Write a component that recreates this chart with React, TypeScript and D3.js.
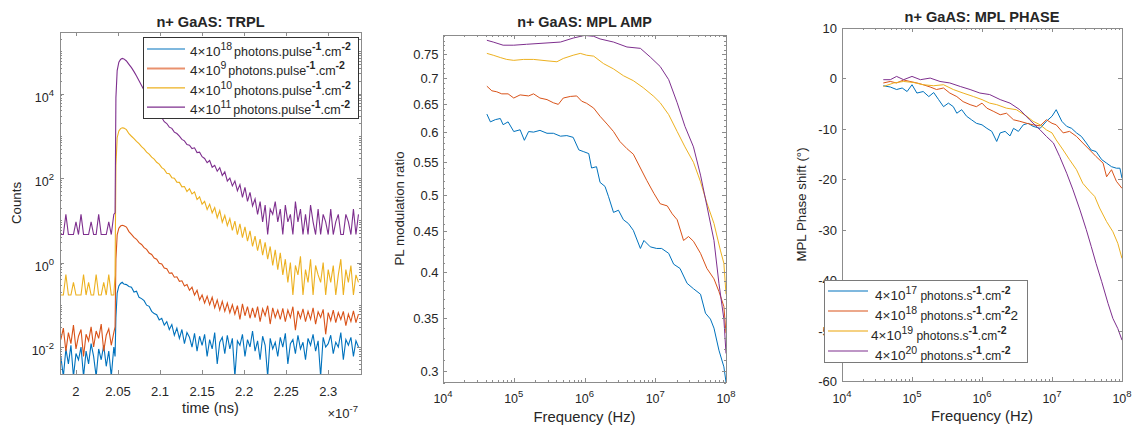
import React from "react";
import * as d3 from "d3";

const FONT = "'Liberation Sans', Arial, Helvetica, sans-serif";
const TEXT = "#262626";
const AXIS = "#8c8c8c";
const COLORS = ["#0072BD", "#D95319", "#EDB120", "#7E2F8E"];

// ---------------- TRPL (left) ----------------
// time in units of 1e-7 s : 22 baseline samples, 8 rise samples, 92 decay samples
const trplPreTimes = d3.range(22).map((i) => 1.982 + 0.003 * i);
const trplRiseTimes = [2.0465, 2.0475, 2.049, 2.051, 2.053, 2.055, 2.057, 2.06];
const trplPostTimes = d3.range(92).map((i) => 2.063 + 0.003 * i);
const trplTimes = [...trplPreTimes, ...trplRiseTimes, ...trplPostTimes];

const trplBlue = [
  0.006, 0.002, 0.009, 0.004, 0.011, 0.002, 0.007, 0.005, 0.010, 0.002, 0.008, 0.004, 0.012, 0.006, 0.002, 0.009, 0.005, 0.011, 0.0035, 0.008, 0.002, 0.010,
  0.006, 0.05, 0.19, 0.28, 0.32, 0.34, 0.31, 0.30,
  0.27, 0.26, 0.2, 0.21, 0.15, 0.14, 0.125, 0.098, 0.092, 0.07,
  0.062, 0.058, 0.044, 0.048, 0.033, 0.04, 0.026, 0.034, 0.019, 0.028,
  0.016, 0.026, 0.012, 0.022, 0.017, 0.01, 0.021, 0.008, 0.018, 0.011,
  0.02, 0.006, 0.015, 0.009, 0.022, 0.004, 0.013, 0.017, 0.007, 0.019,
  0.009, 0.016, 0.002, 0.014, 0.011, 0.02, 0.006, 0.015, 0.01, 0.024,
  0.008, 0.014, 0.005, 0.018, 0.011, 0.002, 0.016, 0.009, 0.013, 0.006,
  0.017, 0.01, 0.021, 0.004, 0.012, 0.015, 0.007, 0.019, 0.009, 0.013,
  0.005, 0.016, 0.011, 0.02, 0.008, 0.014, 0.002, 0.017, 0.01, 0.012,
  0.019, 0.007, 0.013, 0.01, 0.022, 0.005, 0.015, 0.011, 0.017, 0.006,
  0.014, 0.01,
];
const trplOrange = [
  0.015, 0.028, 0.008, 0.022, 0.012, 0.033, 0.009, 0.018, 0.026, 0.006, 0.02, 0.014, 0.03, 0.01, 0.024, 0.016, 0.035, 0.008, 0.019, 0.027, 0.011, 0.022,
  0.03, 1.2, 4.5, 6.5, 7.3, 7.6, 7.4, 6.9,
  5.4, 4.65, 3.95, 3.55, 2.95, 2.68, 2.25, 2.05, 1.68, 1.55,
  1.28, 1.2, 0.96, 0.93, 0.74, 0.71, 0.56, 0.57, 0.45, 0.46,
  0.36, 0.37, 0.28, 0.3, 0.22, 0.26, 0.17, 0.22, 0.13, 0.17,
  0.11, 0.16, 0.1, 0.15, 0.085, 0.13, 0.075, 0.12, 0.07, 0.11,
  0.065, 0.1, 0.06, 0.095, 0.045, 0.105, 0.055, 0.09, 0.048, 0.085,
  0.05, 0.09, 0.04, 0.08, 0.055, 0.095, 0.035, 0.085, 0.05, 0.075,
  0.045, 0.082, 0.04, 0.075, 0.05, 0.09, 0.025, 0.072, 0.048, 0.08,
  0.04, 0.07, 0.045, 0.085, 0.035, 0.068, 0.05, 0.078, 0.02, 0.065,
  0.042, 0.075, 0.038, 0.065, 0.045, 0.07, 0.032, 0.06, 0.04, 0.072,
  0.038, 0.06,
];
const trplYellow = [
  0.17, 0.17, 0.52, 0.17, 0.17, 0.34, 0.17, 0.17, 0.17, 0.52, 0.17, 0.34, 0.17, 0.17, 0.52, 0.17, 0.17, 0.34, 0.17, 0.52, 0.17, 0.17,
  0.5, 200, 900, 1300, 1480, 1550, 1520, 1400,
  1120, 975, 855, 735, 650, 552, 488, 412, 368, 312,
  280, 236, 214, 176, 160, 130, 126, 102, 99, 80,
  79, 62, 63, 48, 56, 42, 47, 31, 36, 24,
  28, 18, 24, 15, 20, 11.5, 17, 9, 13, 7.5,
  11, 5.8, 9.5, 4.6, 8.2, 3.9, 7, 3.2, 5.6, 2.4,
  4.2, 1.9, 3.6, 1.5, 3, 1.2, 2.4, 0.85, 2, 0.68,
  1.7, 0.51, 1.2, 0.34, 1.0, 0.17, 0.85, 0.51, 1.4, 0.17,
  0.68, 0.34, 1.2, 0.17, 0.85, 0.51, 0.34, 1.0, 0.17, 0.68,
  0.34, 0.85, 0.17, 0.51, 1.2, 0.17, 0.68, 0.34, 0.85, 0.17,
  0.51, 0.34,
];
const trplPurple = [
  4.6, 4.6, 13.8, 4.6, 4.6, 4.6, 9.2, 4.6, 13.8, 4.6, 4.6, 4.6, 9.2, 4.6, 4.6, 13.8, 4.6, 4.6, 4.6, 9.2, 4.6, 13.8,
  15, 8000, 35000, 55000, 64000, 68000, 66000, 59000,
  49000, 41000, 33000, 26000, 20000, 15500, 12000, 9500, 7500, 6000,
  4800, 3950, 3150, 2700, 2150, 1950, 1600, 1500, 1220, 1130,
  980, 820, 760, 620, 600, 500, 520, 400, 410, 320,
  290, 230, 260, 180, 200, 145, 175, 115, 140, 85,
  100, 65, 85, 50, 70, 35, 60, 28, 46, 22,
  32, 13.8, 27.6, 9.2, 23, 4.6, 18.4, 13.8, 27.6, 9.2,
  18.4, 4.6, 23, 9.2, 13.8, 4.6, 27.6, 9.2, 18.4, 4.6,
  13.8, 4.6, 23, 9.2, 4.6, 18.4, 4.6, 13.8, 9.2, 4.6,
  18.4, 4.6, 9.2, 13.8, 4.6, 4.6, 13.8, 9.2, 4.6, 18.4,
  4.6, 13.8,
];
const trplSeries = [trplBlue, trplOrange, trplYellow, trplPurple];
const trplLegendExp = ["18", "9", "10", "11"];
const trplXTicks = [2, 2.05, 2.1, 2.15, 2.2, 2.25, 2.3];
const trplYTickExp = [-2, 0, 2, 4];

// ---------------- MPL AMP (middle) : [log10(Hz), ratio] ----------------
const ampBlue = [
  [4.62, 0.631], [4.67, 0.617], [4.74, 0.621], [4.81, 0.623], [4.85, 0.612], [4.92, 0.617], [5.0, 0.6], [5.09, 0.603],
  [5.15, 0.585], [5.21, 0.6], [5.28, 0.599], [5.37, 0.602], [5.47, 0.597], [5.56, 0.597], [5.66, 0.592], [5.75, 0.593],
  [5.84, 0.59], [5.92, 0.569], [5.99, 0.566], [6.06, 0.563], [6.1, 0.54], [6.17, 0.542], [6.22, 0.518], [6.29, 0.512],
  [6.34, 0.497], [6.41, 0.475], [6.48, 0.478], [6.55, 0.465], [6.62, 0.46], [6.69, 0.451], [6.79, 0.428], [6.84, 0.438],
  [6.93, 0.43], [7.02, 0.428], [7.09, 0.428], [7.19, 0.422], [7.26, 0.409], [7.35, 0.404], [7.45, 0.387], [7.54, 0.381],
  [7.64, 0.375], [7.71, 0.355], [7.78, 0.349], [7.83, 0.34], [7.9, 0.319], [7.97, 0.304], [8.0, 0.291],
];
const ampOrange = [
  [4.62, 0.684], [4.69, 0.675], [4.76, 0.673], [4.83, 0.669], [4.92, 0.669], [5.0, 0.661], [5.09, 0.667], [5.21, 0.665],
  [5.28, 0.669], [5.37, 0.661], [5.47, 0.658], [5.56, 0.652], [5.63, 0.649], [5.7, 0.661], [5.8, 0.664], [5.89, 0.665],
  [5.96, 0.655], [6.03, 0.651], [6.13, 0.642], [6.22, 0.627], [6.32, 0.613], [6.41, 0.6], [6.5, 0.583], [6.6, 0.571],
  [6.69, 0.562], [6.79, 0.54], [6.88, 0.521], [6.98, 0.502], [7.07, 0.487], [7.17, 0.484], [7.24, 0.473], [7.31, 0.465],
  [7.4, 0.438], [7.47, 0.443], [7.54, 0.437], [7.64, 0.422], [7.73, 0.404], [7.83, 0.392], [7.9, 0.378], [7.97, 0.362],
  [8.0, 0.335],
];
const ampYellow = [
  [4.62, 0.752], [4.71, 0.748], [4.81, 0.743], [4.9, 0.739], [5.0, 0.737], [5.14, 0.739], [5.28, 0.739], [5.47, 0.736],
  [5.61, 0.734], [5.7, 0.741], [5.84, 0.748], [5.94, 0.752], [6.03, 0.748], [6.13, 0.746], [6.27, 0.73], [6.41, 0.719],
  [6.55, 0.705], [6.69, 0.695], [6.83, 0.681], [6.98, 0.664], [7.07, 0.652], [7.19, 0.63], [7.31, 0.6], [7.42, 0.574],
  [7.54, 0.549], [7.64, 0.519], [7.73, 0.488], [7.83, 0.46], [7.92, 0.426], [7.97, 0.41], [8.0, 0.375],
];
const ampPurple = [
  [4.62, 0.781], [4.71, 0.777], [4.85, 0.77], [5.0, 0.77], [5.18, 0.772], [5.47, 0.775], [5.66, 0.777], [5.84, 0.786],
  [6.0, 0.792], [6.13, 0.79], [6.22, 0.784], [6.41, 0.777], [6.6, 0.766], [6.79, 0.763], [6.93, 0.744], [7.07, 0.724],
  [7.19, 0.697], [7.31, 0.652], [7.42, 0.609], [7.54, 0.574], [7.64, 0.529], [7.73, 0.484], [7.83, 0.438], [7.9, 0.387],
  [7.97, 0.349], [8.0, 0.316],
];
const ampSeries = [ampBlue, ampOrange, ampYellow, ampPurple];
const ampYTicks = [0.3, 0.35, 0.4, 0.45, 0.5, 0.55, 0.6, 0.65, 0.7, 0.75];

// ---------------- MPL PHASE (right) : [log10(Hz), degrees] ----------------
const phaseBlue = [
  [4.59, -1.45], [4.69, -1.7], [4.78, -2.2], [4.86, -1.9], [4.93, -2.6], [5.0, -1.25], [5.07, -2.9], [5.16, -2.6],
  [5.24, -3.6], [5.31, -2.8], [5.38, -4.2], [5.45, -5.6], [5.52, -4.9], [5.59, -5.6], [5.64, -6.9], [5.71, -6.2],
  [5.78, -7.5], [5.85, -8.2], [5.92, -8.9], [6.0, -9.2], [6.07, -9.9], [6.14, -10.5], [6.21, -12.5], [6.26, -10.8],
  [6.33, -10.5], [6.4, -11.4], [6.45, -9.9], [6.52, -10.5], [6.59, -9.2], [6.66, -8.9], [6.73, -9.5], [6.83, -9.9],
  [6.92, -8.5], [7.0, -7.5], [7.06, -6.2], [7.14, -8.5], [7.21, -9.5], [7.28, -9.9], [7.35, -10.8], [7.42, -11.5],
  [7.49, -12.8], [7.56, -14.2], [7.63, -14.5], [7.71, -16.1], [7.78, -16.8], [7.85, -17.5], [7.92, -17.8], [7.97, -17.8],
  [8.0, -19.8],
];
const phaseOrange = [
  [4.59, -0.9], [4.69, -0.6], [4.78, -0.9], [4.88, -0.3], [4.97, -0.6], [5.07, -0.9], [5.16, -1.25], [5.26, -1.7],
  [5.35, -2.2], [5.45, -1.9], [5.54, -2.9], [5.64, -3.6], [5.73, -4.6], [5.83, -5.2], [5.92, -5.6], [6.0, -4.9],
  [6.07, -5.9], [6.16, -6.5], [6.26, -7.2], [6.35, -6.9], [6.45, -8.2], [6.54, -8.5], [6.64, -8.9], [6.73, -9.2],
  [6.83, -9.4], [6.92, -8.2], [7.0, -8.9], [7.06, -9.2], [7.16, -10.8], [7.25, -10.5], [7.35, -11.5], [7.44, -12.8],
  [7.54, -14.2], [7.63, -15.5], [7.73, -16.8], [7.78, -19.5], [7.85, -18.1], [7.92, -20.4], [8.0, -21.8],
];
const phaseYellow = [
  [4.59, -1.6], [4.74, -0.9], [4.88, -0.6], [5.02, -0.8], [5.16, -1.25], [5.31, -1.45], [5.45, -1.25], [5.59, -2.2],
  [5.73, -2.9], [5.88, -3.6], [6.0, -4.2], [6.11, -4.9], [6.21, -5.2], [6.35, -5.9], [6.49, -6.2], [6.64, -7.5],
  [6.73, -8.5], [6.83, -9.2], [6.92, -10.2], [7.0, -10.8], [7.06, -12.2], [7.16, -14.2], [7.25, -16.1], [7.35, -18.1],
  [7.44, -20.8], [7.54, -22.4], [7.61, -23.4], [7.68, -25.7], [7.78, -28.4], [7.87, -30.4], [7.94, -32.7], [8.0, -35.7],
];
const phasePurple = [
  [4.59, -0.25], [4.69, -0.25], [4.78, 0.4], [4.88, -0.25], [5.0, 0.4], [5.12, -0.25], [5.26, 0.07], [5.4, -0.6],
  [5.54, -0.9], [5.69, -1.6], [5.83, -2.2], [5.97, -2.9], [6.11, -3.2], [6.26, -4.2], [6.4, -4.9], [6.54, -6.2],
  [6.68, -8.2], [6.83, -10.2], [6.92, -11.5], [7.02, -12.8], [7.11, -15.5], [7.21, -18.8], [7.3, -22.1], [7.4, -26.1],
  [7.49, -30.0], [7.56, -33.3], [7.63, -36.7], [7.71, -40.3], [7.8, -44.6], [7.87, -47.6], [7.94, -49.6], [8.0, -51.9],
];
const phaseSeries = [phaseBlue, phaseOrange, phaseYellow, phasePurple];
const phaseLegendExp = ["17", "18", "19", "20"];
const phaseYTicks = [-60, -50, -40, -30, -20, -10, 0, 10];
const freqTickExp = [4, 5, 6, 7, 8];

// ---------------- helpers ----------------
type Seg = { t: string; sup?: boolean; size?: number; bold?: boolean; dx?: number };

function Rich({ x, y, segs, size = 13, anchor = "start", supSize = 9.5 }: {
  x: number; y: number; segs: Seg[]; size?: number; anchor?: string; supSize?: number;
}) {
  let cur = 0;
  return (
    <text x={x} y={y} fontSize={size} textAnchor={anchor} fontFamily={FONT} fill={TEXT} style={{ whiteSpace: "pre" }}>
      {segs.map((s, i) => {
        const target = s.sup ? -6 : 0;
        const dy = target - cur;
        cur = target;
        return (
          <tspan key={i} dy={dy || undefined} dx={s.dx} fontSize={s.size ?? (s.sup ? supSize : size)} fontWeight={s.bold ? 700 : undefined}>
            {s.t}
          </tspan>
        );
      })}
    </text>
  );
}

const pow10 = (e: number) => [{ t: "10" }, { t: String(e), sup: true }];

const logMinor = (lo: number, hi: number, skip: number[] = []) => {
  const out: number[] = [];
  for (let k = Math.floor(Math.log10(lo)) - 1; k <= Math.ceil(Math.log10(hi)); k++) {
    for (let m = 1; m <= 9; m++) {
      const v = m * Math.pow(10, k);
      if (v < lo || v > hi) continue;
      if (m === 1 && skip.includes(k)) continue;
      out.push(v);
    }
  }
  return out;
};

type Box = { x0: number; x1: number; y0: number; y1: number };

function Frame({ box, xs, ys, xMajor, xMinor = [], yMajor, yMinor = [] }: any) {
  const { x0, x1, y0, y1 } = box as Box;
  const d: string[] = [];
  const vt = (v: number, len: number) => {
    const x = Math.round(xs(v)) + 0.5;
    d.push(`M${x},${y1}V${y1 - len}M${x},${y0}V${y0 + len}`);
  };
  const ht = (v: number, len: number) => {
    const y = Math.round(ys(v)) + 0.5;
    d.push(`M${x0},${y}H${x0 + len}M${x1},${y}H${x1 - len}`);
  };
  xMajor.forEach((v: number) => vt(v, 4));
  xMinor.forEach((v: number) => vt(v, 2));
  yMajor.forEach((v: number) => ht(v, 4));
  yMinor.forEach((v: number) => ht(v, 2));
  return (
    <g stroke={AXIS} strokeWidth={1} fill="none">
      <path d={d.join("")} />
      <rect x={x0 + 0.5} y={y0 + 0.5} width={x1 - x0} height={y1 - y0} />
    </g>
  );
}

function Legend({ x, y, w, h, rows, lineX0, lineX1, textX, textDy, border }: any) {
  return (
    <g>
      <rect x={x + 0.5} y={y + 0.5} width={w} height={h} fill="#fff" stroke={border} strokeWidth={1} />
      {rows.map((r: any, i: number) => (
        <g key={i}>
          <line x1={lineX0} x2={lineX1} y1={r.y} y2={r.y} stroke={r.color ?? COLORS[i]} strokeWidth={r.width ?? 1.2} />
          <Rich x={r.textX ?? textX} y={r.y + textDy} segs={r.segs} size={13.5} supSize={10.5} />
        </g>
      ))}
    </g>
  );
}

function AxisTitle({ x, y, text, size, bold, rotate }: any) {
  return (
    <text
      x={x}
      y={y}
      textAnchor="middle"
      fontSize={size}
      fontWeight={bold ? 700 : undefined}
      fontFamily={FONT}
      fill={TEXT}
      transform={rotate ? `rotate(-90,${x},${y})` : undefined}
    >
      {text}
    </text>
  );
}

// ---------------- panels ----------------
function TrplPanel() {
  const b: Box = { x0: 60, x1: 361, y0: 32, y1: 374 };
  const xs = d3.scaleLinear().domain([1.981, 2.339]).range([b.x0, b.x1]);
  const ys = d3.scaleLog().domain([0.0023, 2.86e5]).range([b.y1, b.y0]);
  const line = d3
    .line<number>()
    .x((_, i) => xs(trplTimes[i]))
    .y((v) => ys(Math.max(v, 1e-4)));
  const yMajor = trplYTickExp.map((e) => Math.pow(10, e));
  const yMinor = logMinor(0.0023, 2.86e5, trplYTickExp);
  const rowY = [49, 68.4, 87.8, 107.2];
  const rows = trplLegendExp.map((e, i) => ({
    y: rowY[i],
    color: i === 1 ? "#E9916E" : undefined,
    width: i === 1 ? 2 : undefined,
    segs: [
      { t: "4×10" },
      { t: e, sup: true },
      { t: "photons.pulse", size: 12.5, dx: 2 },
      { t: "-1", sup: true, bold: true },
      { t: ".cm", size: 12.5 },
      { t: "-2", sup: true, bold: true },
    ],
  }));
  return (
    <g>
      <defs>
        <clipPath id="clipT">
          <rect x={b.x0} y={b.y0} width={b.x1 - b.x0 + 1} height={b.y1 - b.y0 + 1} />
        </clipPath>
      </defs>
      <g clipPath="url(#clipT)" fill="none" strokeWidth={1.1}>
        {trplSeries.map((s, i) => (
          <path key={i} d={line(s) ?? ""} stroke={COLORS[i]} />
        ))}
      </g>
      <Frame box={b} xs={xs} ys={ys} xMajor={trplXTicks} yMajor={yMajor} yMinor={yMinor} />
      {trplXTicks.map((t) => (
        <text key={t} x={xs(t)} y={b.y1 + 22} textAnchor="middle" fontSize={13} fontFamily={FONT} fill={TEXT}>
          {String(t)}
        </text>
      ))}
      {trplYTickExp.map((e) => (
        <Rich key={e} x={54} y={ys(Math.pow(10, e)) + 8} anchor="end" segs={pow10(e)} size={12.5} />
      ))}
      <AxisTitle x={(b.x0 + b.x1) / 2} y={26.5} text="n+ GaAS: TRPL" size={14.6} bold />
      <AxisTitle x={(b.x0 + b.x1) / 2} y={413} text="time (ns)" size={14.6} />
      <Rich x={358} y={418} anchor="end" segs={[{ t: "×10" }, { t: "-7", sup: true }]} />
      <AxisTitle x={20.5} y={(b.y0 + b.y1) / 2} text="Counts" size={13.3} rotate />
      <Legend x={143} y={37} w={215} h={81} rows={rows} lineX0={147} lineX1={185} textX={190} textDy={7} border="#333333" />
    </g>
  );
}

function AmpPanel() {
  const b: Box = { x0: 443, x1: 726, y0: 35, y1: 382 };
  const xs = d3.scaleLog().domain([1e4, 1e8]).range([b.x0, b.x1]);
  const ys = d3.scaleLog().domain([0.291, 0.793]).range([b.y1, b.y0]);
  const line = d3
    .line<number[]>()
    .x((d) => xs(Math.pow(10, d[0])))
    .y((d) => ys(d[1]));
  const xMajor = freqTickExp.map((e) => Math.pow(10, e));
  const xMinor = logMinor(1e4, 1e8, freqTickExp);
  const yMinor = d3.range(29, 80).map((k) => k / 100).filter((v) => Math.round(v * 100) % 5 !== 0);
  return (
    <g>
      <defs>
        <clipPath id="clipA">
          <rect x={b.x0} y={b.y0} width={b.x1 - b.x0 + 1} height={b.y1 - b.y0 + 1} />
        </clipPath>
      </defs>
      <g clipPath="url(#clipA)" fill="none" strokeWidth={1}>
        {ampSeries.map((s, i) => (
          <path key={i} d={line(s) ?? ""} stroke={COLORS[i]} />
        ))}
      </g>
      <Frame box={b} xs={xs} ys={ys} xMajor={xMajor} xMinor={xMinor} yMajor={ampYTicks} yMinor={yMinor} />
      {freqTickExp.map((e) => (
        <Rich key={e} x={xs(Math.pow(10, e))} y={b.y1 + 21} anchor="middle" segs={pow10(e)} size={12.5} />
      ))}
      {ampYTicks.map((t) => (
        <text key={t} x={438.5} y={ys(t) + 5} textAnchor="end" fontSize={13} fontFamily={FONT} fill={TEXT}>
          {String(t)}
        </text>
      ))}
      <AxisTitle x={(b.x0 + b.x1) / 2} y={27} text="n+ GaAS: MPL AMP" size={14.4} bold />
      <AxisTitle x={(b.x0 + b.x1) / 2} y={421.5} text="Frequency (Hz)" size={14.8} />
      <AxisTitle x={404} y={(b.y0 + b.y1) / 2} text="PL modulation ratio" size={13.3} rotate />
    </g>
  );
}

function PhasePanel() {
  const b: Box = { x0: 842, x1: 1122, y0: 28, y1: 381 };
  const xs = d3.scaleLog().domain([1e4, 1e8]).range([b.x0, b.x1]);
  const ys = d3.scaleLinear().domain([-60, 10]).range([b.y1, b.y0]);
  const line = d3
    .line<number[]>()
    .x((d) => xs(Math.pow(10, d[0])))
    .y((d) => ys(d[1]));
  const xMajor = freqTickExp.map((e) => Math.pow(10, e));
  const xMinor = logMinor(1e4, 1e8, freqTickExp);
  const rowY = [291, 311, 331, 351];
  const rows = phaseLegendExp.map((e, i) => ({
    y: rowY[i],
    textX: i === 2 ? 871 : 875,
    color: i === 2 ? "#F5D182" : undefined,
    width: i === 2 ? 2.2 : undefined,
    segs: [
      { t: "4×10" },
      { t: e, sup: true },
      { t: " photons.s", size: 12 },
      { t: "-1", sup: true, bold: true },
      { t: ".cm", size: 12 },
      { t: "-2", sup: true, bold: true },
      ...(i === 1 ? [{ t: "2" }] : []),
    ],
  }));
  return (
    <g>
      <defs>
        <clipPath id="clipP">
          <rect x={b.x0} y={b.y0} width={b.x1 - b.x0 + 1} height={b.y1 - b.y0 + 1} />
        </clipPath>
      </defs>
      <g clipPath="url(#clipP)" fill="none" strokeWidth={1}>
        {phaseSeries.map((s, i) => (
          <path key={i} d={line(s) ?? ""} stroke={COLORS[i]} />
        ))}
      </g>
      <Frame box={b} xs={xs} ys={ys} xMajor={xMajor} xMinor={xMinor} yMajor={phaseYTicks} />
      {freqTickExp.map((e) => (
        <Rich key={e} x={xs(Math.pow(10, e))} y={b.y1 + 22} anchor="middle" segs={pow10(e)} size={12.5} />
      ))}
      {phaseYTicks.map((t) => (
        <text key={t} x={837} y={ys(t) + 5} textAnchor="end" fontSize={13} fontFamily={FONT} fill={TEXT}>
          {String(t)}
        </text>
      ))}
      <AxisTitle x={(b.x0 + b.x1) / 2} y={21.5} text="n+ GaAS: MPL PHASE" size={14.6} bold />
      <AxisTitle x={(b.x0 + b.x1) / 2} y={421} text="Frequency (Hz)" size={14.8} />
      <AxisTitle x={806} y={(b.y0 + b.y1) / 2} text="MPL Phase shift (°)" size={13.3} rotate />
      <Legend x={824} y={280} w={203} h={82} rows={rows} lineX0={828} lineX1={868} textX={875} textDy={8.5} border="#7a7a7a" />
    </g>
  );
}

export default function App() {
  return (
    <svg
      width={1135}
      height={426}
      viewBox="0 0 1135 426"
      style={{ position: "absolute", left: 0, top: 0, background: "#fff" }}
    >
      <TrplPanel />
      <AmpPanel />
      <PhasePanel />
    </svg>
  );
}
